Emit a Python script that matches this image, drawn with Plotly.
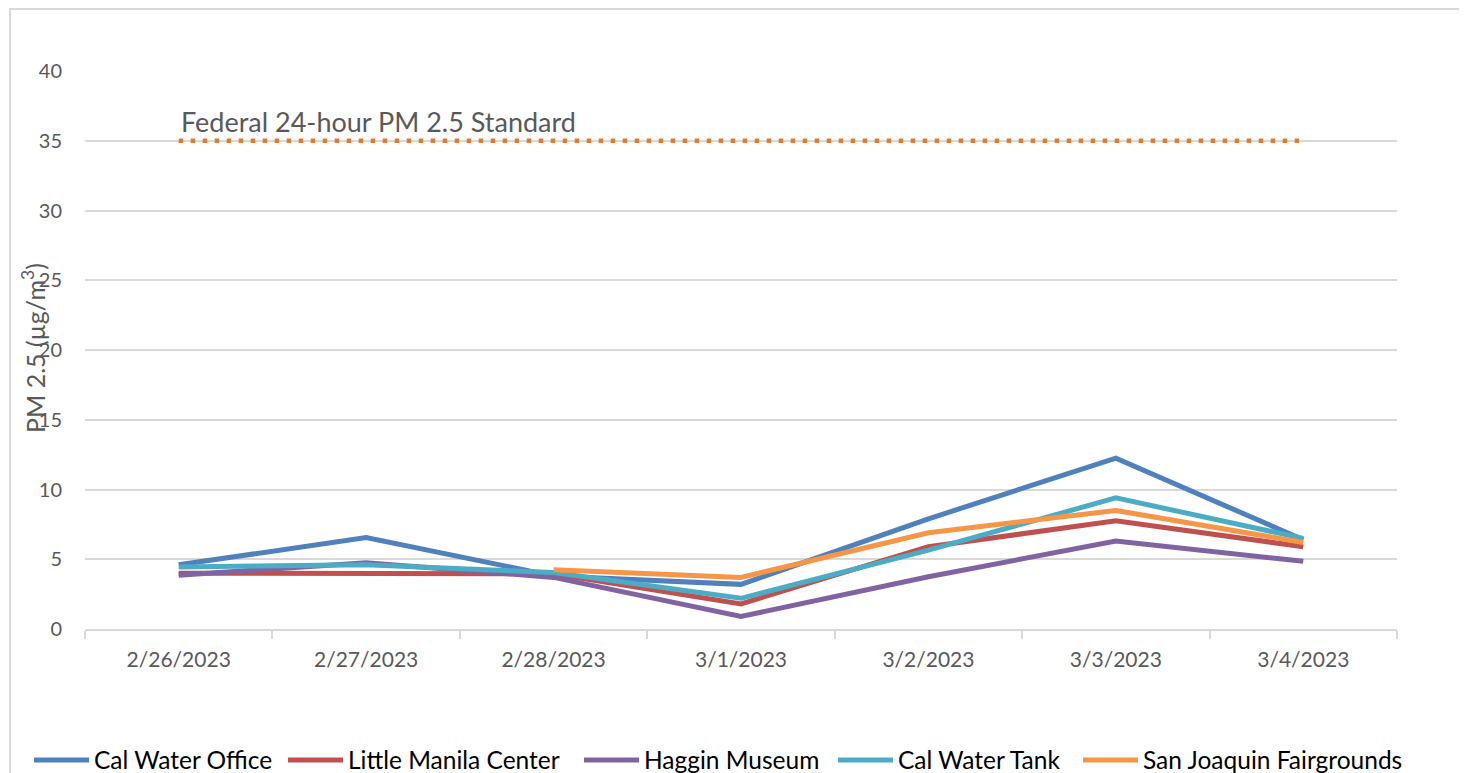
import plotly.graph_objects as go

dates = ["2/26/2023", "2/27/2023", "2/28/2023", "3/1/2023", "3/2/2023", "3/3/2023", "3/4/2023"]
cal_water_office = [4.6, 6.55, 3.8, 3.2, 7.9, 12.25, 6.4]
little_manila = [4.0, 3.95, 3.95, 1.8, 5.9, 7.75, 5.9]
haggin_museum = [3.85, 4.75, 3.7, 0.9, 3.75, 6.3, 4.85]
cal_water_tank = [4.45, 4.6, 4.05, 2.2, 5.65, 9.4, 6.5]
san_joaquin = [None, None, 4.25, 3.7, 6.9, 8.5, 6.2]
federal_standard = [35] * 7

series_names = ["Cal Water Office", "Little Manila Center", "Haggin Museum",
                "Cal Water Tank", "San Joaquin Fairgrounds"]
series_values = [cal_water_office, little_manila, haggin_museum, cal_water_tank, san_joaquin]
series_colors = ["#4F81BD", "#C0504D", "#8064A2", "#4BACC6", "#F79646"]
legend_starts = [35, 289, 585, 839, 1084]  # reference pixel x of legend swatch starts

OFF = 8  # page body margin
W, H = 1467, 773
L = 85 - OFF
T = 71 - OFF
R = W - (1397 - OFF)
B = 0
pw, ph = W - L - R, H - T - B
plot_bottom = 629 - OFF


def px_x(x):
    return (x - OFF - L) / pw


def px_y(y):
    return (H - B - (y - OFF)) / ph


fig = go.Figure()
fig.add_trace(go.Scatter(x=dates, y=federal_standard, mode="lines",
                         line=dict(color="#E07B30", width=4.5, dash="4.5px,7.5px"),
                         showlegend=False, hoverinfo="skip"))

legend_layouts = {}
for i, (name, vals, col) in enumerate(zip(series_names, series_values, series_colors)):
    lname = "legend" if i == 0 else f"legend{i + 1}"
    fig.add_trace(go.Scatter(x=dates, y=vals, mode="lines", name=name, legend=lname,
                             line=dict(color=col, width=5)))
    legend_layouts[lname] = dict(
        orientation="h", x=px_x(legend_starts[i] - 6), xanchor="left",
        y=px_y(760), yanchor="middle", bgcolor="rgba(0,0,0,0)",
        font=dict(size=24.5, color="#000000"), itemwidth=55,
    )

fig.update_layout(
    width=W, height=H,
    margin=dict(l=L, r=R, t=T, b=B, autoexpand=False),
    paper_bgcolor="white", plot_bgcolor="white",
    font=dict(family="Lato, Carlito, sans-serif", color="#595959", size=20),
    xaxis=dict(type="category", range=[-0.5, 6.5], tickson="boundaries", ticks="outside", ticklen=8,
               tickcolor="#D9D9D9", tickwidth=2, showgrid=False, showline=True, linecolor="#D9D9D9",
               linewidth=2, tickfont=dict(size=21, color="#595959"), zeroline=False,
               ticklabelstandoff=11, automargin=False),
    yaxis=dict(range=[0, 40], dtick=5, showgrid=True, gridcolor="#D9D9D9", gridwidth=2,
               zeroline=False, showline=False, ticks="", tickfont=dict(size=20, color="#595959"),
               ticklabelstandoff=22, domain=[(H - plot_bottom) / ph, 1], automargin=False),
    showlegend=True,
    **legend_layouts,
)

fig.add_annotation(xref="paper", yref="y", x=px_x(179), y=36.4, xanchor="left", yanchor="middle",
                   text="Federal 24-hour PM 2.5 Standard", showarrow=False,
                   font=dict(size=27, color="#595959"))
fig.add_annotation(xref="paper", yref="paper", x=px_x(33), y=px_y(348), xanchor="center", yanchor="middle",
                   text="PM 2.5 (µg/m<sup>3</sup>)", textangle=-90, showarrow=False,
                   font=dict(size=25, color="#595959"))
fig.add_shape(type="rect", xref="paper", yref="paper", x0=px_x(10), x1=px_x(1463),
              y0=px_y(800), y1=px_y(9), line=dict(color="#D9D9D9", width=2), layer="below")

fig.write_html("out.html")
